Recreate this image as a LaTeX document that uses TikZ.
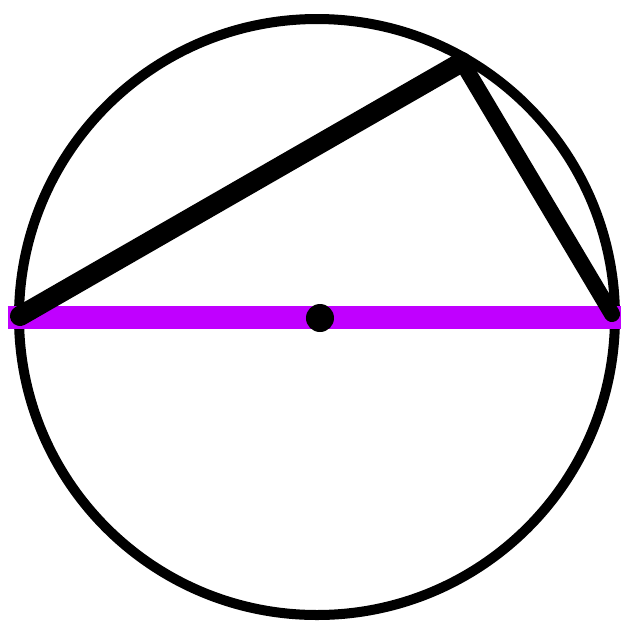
\documentclass[tikz,border=0pt]{standalone}
\definecolor{diam}{HTML}{C000FF}
\begin{document}
\begin{tikzpicture}[x=0.01cm,y=-0.01cm,
  rim/.style={line width=0.1cm, draw=black},
  diameter/.style={line width=0.23cm, draw=diam},
  chord/.style={draw=black, line cap=round}]
\useasboundingbox (0,0) rectangle (621,623);
\coordinate (O) at (317,317);
\coordinate (A) at (8,317);
\coordinate (B) at (621,317);
\coordinate (C) at (462,62);
\coordinate (L) at (20,316);
\coordinate (R) at (612,314);
\draw[rim] (O) circle (298);
\draw[diameter] (A) -- (B);
\draw[chord, line width=0.2cm] (L) -- (C);
\draw[chord, line width=0.16cm] (C) -- (R);
\fill[black] (320,318) circle (14);
\end{tikzpicture}
\end{document}
